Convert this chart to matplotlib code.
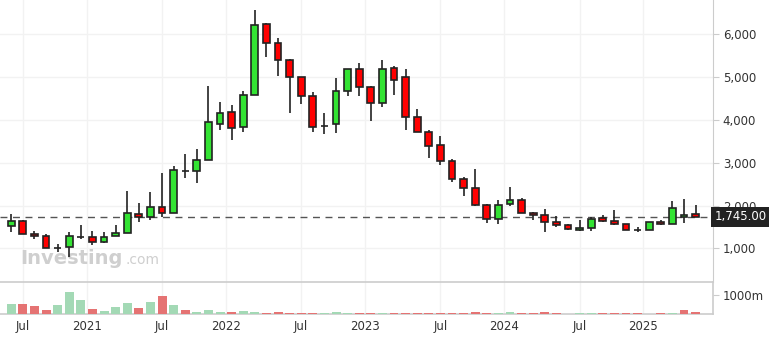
import numpy as np
import matplotlib.pyplot as plt
from matplotlib.patches import Rectangle
from matplotlib.transforms import blended_transform_factory

# ---- monthly candles, Jun 2020 .. May 2025 ----
opens = [1519, 1635, 1339, 1285, 1019, 1028, 1280, 1276, 1152, 1285,
         1355, 1806, 1743, 1976, 1822, 2803, 2803, 3060, 3901, 4181,
         3831, 4579, 6237, 5793, 5396, 4999, 4555, 3855, 3901, 4672,
         5186, 4766, 4392, 5209, 4999, 4065, 3714, 3411, 3037, 2617,
         2406, 2009, 1682, 2033, 2126, 1822, 1776, 1612, 1542, 1425,
         1472, 1705, 1635, 1565, 1439, 1425, 1612, 1565, 1729, 1799]
highs = [1806, 1660, 1409, 1332, 1105, 1385, 1549, 1409, 1392, 1549,
         2343, 2070, 2320, 2764, 2927, 3208, 3324, 4796, 4422, 4352,
         4686, 6571, 6261, 5917, 5420, 4999, 4656, 4165, 4983, 5186,
         5333, 4796, 5403, 5270, 5193, 4252, 3768, 3621, 3084, 2670,
         2857, 2039, 2133, 2430, 2173, 1846, 1923, 1752, 1565, 1659,
         1729, 1776, 1899, 1565, 1495, 1612, 1659, 2117, 2156, 2016]
lows = [1392, 1332, 1215, 1000, 911, 808, 1229, 1082, 1135, 1285,
        1355, 1626, 1666, 1743, 1822, 2654, 2523, 3060, 3775, 3541,
        3728, 4579, 5480, 5037, 4172, 4382, 3728, 3682, 3705, 4569,
        4569, 3985, 4312, 4593, 3775, 3714, 3121, 2958, 2560, 2233,
        1986, 1603, 1570, 1993, 1822, 1659, 1378, 1495, 1425, 1402,
        1402, 1612, 1542, 1425, 1378, 1425, 1542, 1565, 1589, 1745]
closes = [1635, 1332, 1285, 1005, 1019, 1285, 1280, 1159, 1276, 1355,
          1822, 1743, 1962, 1822, 2827, 2803, 3060, 3948, 4158, 3808,
          4579, 6214, 5793, 5396, 4999, 4555, 3831, 3855, 4672, 5186,
          4766, 4392, 5186, 4929, 4065, 3714, 3387, 3037, 2617, 2406,
          2009, 1682, 2009, 2126, 1822, 1776, 1612, 1542, 1449, 1472,
          1682, 1635, 1565, 1425, 1439, 1612, 1565, 1939, 1776, 1745]

# volume in millions, and whether the bar is drawn green (g) or red (r)
volumes = [526, 526, 421, 193, 474, 1140, 719, 246, 140, 351,
           561, 298, 614, 947, 456, 193, 105, 193, 105, 105,
           140, 88, 53, 105, 53, 53, 53, 53, 105, 35,
           35, 35, 35, 35, 40, 40, 40, 40, 40, 40,
           105, 40, 40, 105, 40, 40, 105, 40, 0, 40,
           40, 40, 40, 40, 40, 0, 40, 40, 210, 105]
vol_dir = list("grrrgggrgg" "grgrgrgggr" "ggrrrrrggg" "rrgrrrrrrr"
               "rrgg" "rrrrr" "ggrrrrgrgrr")

last_price = 1745
tick_labels = ['Jul', '2021', 'Jul', '2022', 'Jul', '2023', 'Jul', '2024', 'Jul', '2025']
tick_pos = [1, 6.5, 13, 18.5, 25, 30.5, 37, 42.5, 49, 54.5]
price_ticks = [1000, 2000, 3000, 4000, 5000, 6000]

# ---- figure layout ----
fig = plt.figure(figsize=(7.69, 3.39), dpi=100)
ax = fig.add_axes([0.0, 0.1681, 0.9272, 0.8319])
axv = fig.add_axes([0.0, 0.0737, 0.9272, 0.0944], sharex=ax)

GREEN = '#33e333'
RED = '#ff0000'
EDGE = '#222222'
GRID = '#f2f2f2'
AXIS = '#cccccc'
TXT = '#333333'

x = np.arange(len(opens))
body_w = 0.58

# candles
for i in x:
    o, h, l, c = opens[i], highs[i], lows[i], closes[i]
    ax.vlines(i, l, h, color=EDGE, linewidth=1.2, zorder=3)
    if o == c:
        ax.hlines(o, i - body_w / 2, i + body_w / 2, color=EDGE, linewidth=1.2, zorder=4)
        continue
    col = GREEN if c > o else RED
    ax.add_patch(Rectangle((i - body_w / 2, min(o, c)), body_w, abs(c - o),
                           facecolor=col, edgecolor=EDGE, linewidth=1.2, zorder=4))

ax.axhline(last_price, color='#555555', linestyle=(0, (5, 4)), linewidth=1.0, zorder=2)

ax.set_xlim(-0.97, 60.5)
ax.set_ylim(217, 6805)
ax.set_yticks(price_ticks)
ax.set_yticklabels([f'{v:,}' for v in price_ticks])
ax.yaxis.tick_right()
ax.tick_params(axis='y', length=4, color=AXIS, labelcolor=TXT, labelsize=8.5, pad=3)
ax.tick_params(axis='x', bottom=False, labelbottom=False)
ax.grid(True, color=GRID, linewidth=1)
ax.set_axisbelow(True)
for s in ['top', 'left', 'bottom']:
    ax.spines[s].set_visible(False)
ax.spines['right'].set_color(AXIS)

# last-price box on the right axis (covers part of the 2,000 label, as in the original)
trans = blended_transform_factory(ax.transAxes, ax.transData)
ax.text(1.002, last_price, '1,745.00', transform=trans, ha='left', va='center',
        color='white', fontsize=8.5, clip_on=False, zorder=10,
        bbox=dict(boxstyle='square,pad=0.3', facecolor='#222222', edgecolor='none'))

# watermark
ax.text(0.028, 0.065, 'Investing', transform=ax.transAxes, fontsize=14, fontweight='bold',
        color='#cfcfcf', ha='left', va='baseline', zorder=1)
ax.text(0.176, 0.065, '.com', transform=ax.transAxes, fontsize=10,
        color='#cfcfcf', ha='left', va='baseline', zorder=1)

# volume panel
vcols = ['#a3d9b5' if d == 'g' else '#e57373' for d in vol_dir]
axv.bar(x, volumes, width=0.77, color=vcols, zorder=3)
axv.set_ylim(0, 1684)
axv.set_yticks([1000])
axv.set_yticklabels(['1000m'])
axv.yaxis.tick_right()
axv.tick_params(axis='y', length=4, color=AXIS, labelcolor=TXT, labelsize=8.5, pad=3)
axv.set_xticks(tick_pos)
axv.set_xticklabels(tick_labels)
axv.tick_params(axis='x', length=0, labelcolor=TXT, labelsize=8.5, pad=4)
axv.grid(True, axis='x', color=GRID, linewidth=1)
axv.set_axisbelow(True)
axv.spines['left'].set_visible(False)
for s in ['top', 'right', 'bottom']:
    axv.spines[s].set_color(AXIS)
    axv.spines[s].set_linewidth(1.2)

# vertical gridlines in price panel at the same ticks
for p in tick_pos:
    ax.axvline(p, color=GRID, linewidth=1, zorder=0)
ax.xaxis.grid(False)

fig.savefig('out.png', dpi=100, facecolor='white')
